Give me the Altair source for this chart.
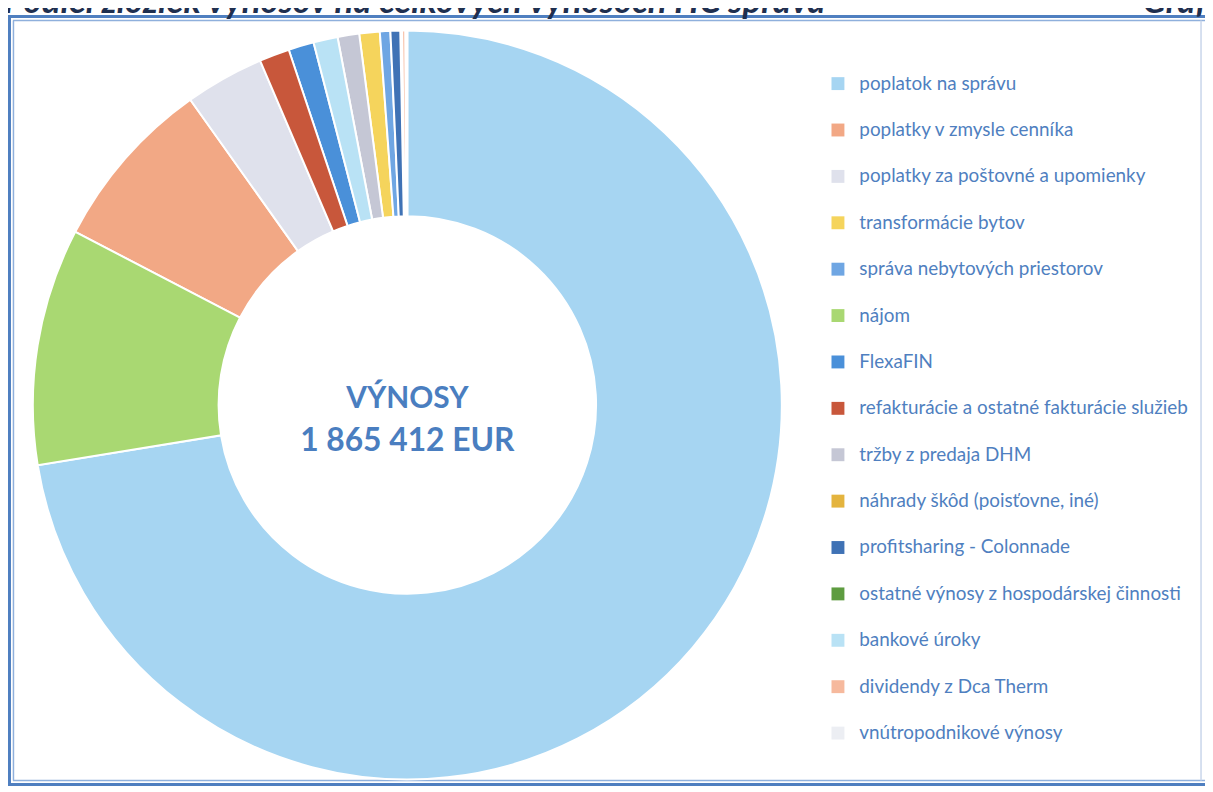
import altair as alt
import pandas as pd

# legend order (as in the reference legend)
categories = [
    "poplatok na správu",
    "poplatky v zmysle cenníka",
    "poplatky za poštovné a upomienky",
    "transformácie bytov",
    "správa nebytových priestorov",
    "nájom",
    "FlexaFIN",
    "refakturácie a ostatné fakturácie služieb",
    "tržby z predaja DHM",
    "náhrady škôd (poisťovne, iné)",
    "profitsharing - Colonnade",
    "ostatné výnosy z hospodárskej činnosti",
    "bankové úroky",
    "dividendy z Dca Therm",
    "vnútropodnikové výnosy",
]
# estimated share of total revenues (%)
shares = [72.3, 7.5, 3.4, 0.88, 0.45, 10.2, 1.1, 1.3, 0.93, 0.05, 0.42, 0.03, 1.04, 0.14, 0.08]
# clockwise position of each slice in the donut
pie_order = [1, 3, 4, 9, 10, 2, 6, 5, 8, 12, 11, 13, 7, 14, 15]
colors = [
    "#a6d5f2", "#f2a885", "#dfe1ec", "#f5d45c", "#6fa6e3",
    "#a9d872", "#4a90d9", "#c8573b", "#c5c7d5", "#e4b43e",
    "#3f72b5", "#5e9c40", "#b9e2f5", "#f6b99d", "#eceef3",
]
center_lines = ["VÝNOSY", "1 865 412 EUR"]
title_left = "Podiel zložiek výnosov na celkových výnosoch HČ správa"
title_right = "Graf č. 6"

W, H = 1205, 784
CX, CY = 402, 397

df = pd.DataFrame({"kategoria": categories, "podiel": shares, "poradie": pie_order})

arc = alt.Chart(df).mark_arc(
    outerRadius=377, innerRadius=190, stroke="white", strokeWidth=2
).encode(
    theta=alt.Theta("podiel:Q", stack=True),
    order=alt.Order("poradie:Q"),
    color=alt.Color(
        "kategoria:N",
        sort=categories,
        scale=alt.Scale(domain=categories, range=colors),
        legend=alt.Legend(
            title=None,
            orient="none",
            legendX=826,
            legendY=64,
            direction="vertical",
            symbolType="square",
            symbolSize=169,
            symbolStrokeWidth=0,
            labelFont="Lato",
            labelFontSize=19,
            labelColor="#4f7fc0",
            labelOffset=12,
            labelLimit=420,
            rowPadding=26.7,
            padding=0,
        ),
    ),
    x=alt.value(CX),
    y=alt.value(CY),
    tooltip=["kategoria:N", "podiel:Q"],
)

t1 = alt.Chart(pd.DataFrame({"t": [center_lines[0]]})).mark_text(
    font="Lato", fontSize=30, fontWeight="bold", color="#4a7ec0", align="center", baseline="alphabetic"
).encode(text="t:N", x=alt.value(CX), y=alt.value(400))

t2 = alt.Chart(pd.DataFrame({"t": [center_lines[1]]})).mark_text(
    font="Lato", fontSize=32, fontWeight="bold", color="#4a7ec0", align="center", baseline="alphabetic"
).encode(text="t:N", x=alt.value(CX), y=alt.value(443))

title_l = alt.Chart(pd.DataFrame({"t": [title_left]})).mark_text(
    font="Lato", fontSize=35, fontWeight="bold", fontStyle="italic", color="#1f2f4f", align="left", baseline="alphabetic"
).encode(text="t:N", x=alt.value(-4), y=alt.value(2))

title_r = alt.Chart(pd.DataFrame({"t": [title_right]})).mark_text(
    font="Lato", fontSize=35, fontWeight="bold", fontStyle="italic", color="#1f2f4f", align="left", baseline="alphabetic"
).encode(text="t:N", x=alt.value(1142), y=alt.value(2))

one = pd.DataFrame({"a": [0]})


def hline(y, x1, x2, color, w):
    return alt.Chart(one).mark_rule(color=color, strokeWidth=w).encode(
        x=alt.value(x1), x2=alt.value(x2), y=alt.value(y)
    )


def vline(x, y1, y2, color, w):
    return alt.Chart(one).mark_rule(color=color, strokeWidth=w).encode(
        x=alt.value(x), y=alt.value(y1), y2=alt.value(y2)
    )


frame = [
    # outer double-frame line
    hline(6, 0, 1205, "#4f7fc0", 3),
    vline(1.5, 5, 780, "#4f7fc0", 3),
    hline(779, 0, 1205, "#4f7fc0", 3),
    # inner line
    hline(10, 5, 1205, "#8fb0dc", 1.5),
    vline(5.5, 10, 775, "#8fb0dc", 1.5),
    hline(775, 5, 1205, "#8fb0dc", 1.5),
    # faint right edge
    vline(1201, 10, 775, "#c9d6ea", 1.5),
]

chart = alt.layer(*frame, arc, t1, t2, title_l, title_r).properties(
    width=W, height=H, padding=0, background="white",
    autosize=alt.AutoSizeParams(type="none"),
).configure_view(stroke=None)

chart.save("out.html", embed_options={"renderer": "svg", "actions": False})
